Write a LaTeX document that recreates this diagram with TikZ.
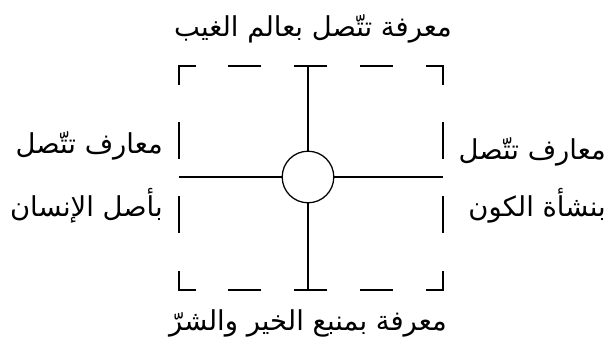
\documentclass[tikz,border=0pt]{standalone}
\usepackage{fontspec}
\newfontfamily\arabicfont[Script=Arabic]{DejaVu Sans}
\TeXXeTstate=1

\begin{document}
\begin{tikzpicture}[
    x=0.025cm, y=-0.025cm,
    every node/.style={font=\arabicfont\fontsize{19.5}{22}\selectfont},
    frame/.style={line width=0.9pt, line cap=rect},
    hside/.style={frame, dash=on 22.7pt off 24.1pt phase 11.35pt},
    vside/.style={frame, dash=on 25.5pt off 27.4pt phase 12.75pt},
    spoke/.style={line width=0.9pt},
    hub/.style={circle, draw, line width=0.9pt, minimum size=1.29cm, inner sep=0pt},
    caption/.style={inner sep=0pt, anchor=base},
    side/.style={inner sep=0pt, anchor=base east},
]

\useasboundingbox (0,0) rectangle (608,349);

% === Frame corners ===
\coordinate (tl) at (179,66);
\coordinate (tr) at (443,66);
\coordinate (bl) at (179,290);
\coordinate (br) at (443,290);

% === Dashed frame ===
\draw[hside] (tl) -- (tr);
\draw[hside] (bl) -- (br);
\draw[vside] (tl) -- (bl);
\draw[vside] (tr) -- (br);

% === Centre circle and spokes ===
\node[hub] (hub) at (308,177) {};
\draw[spoke] (hub.north) -- (hub.north |- tl);
\draw[spoke] (hub.south) -- (hub.south |- bl);
\draw[spoke] (hub.west) -- (hub.west -| tl);
\draw[spoke] (hub.east) -- (hub.east -| tr);

% === Labels ===
\node[caption] (top) at (313,36) {\beginR معرفة تتّصل بعالم الغيب\endR};
\node[caption] (bottom) at (308,330) {\beginR معرفة بمنبع الخير والشرّ\endR};
\node[side] (left1) at (163,153) {\beginR معارف تتّصل\endR};
\node[side] (left2) at (163,216) {\beginR بأصل الإنسان\endR};
\node[side] (right1) at (606,159) {\beginR معارف تتّصل\endR};
\node[side] (right2) at (606,216) {\beginR بنشأة الكون\endR};

\end{tikzpicture}
\end{document}
